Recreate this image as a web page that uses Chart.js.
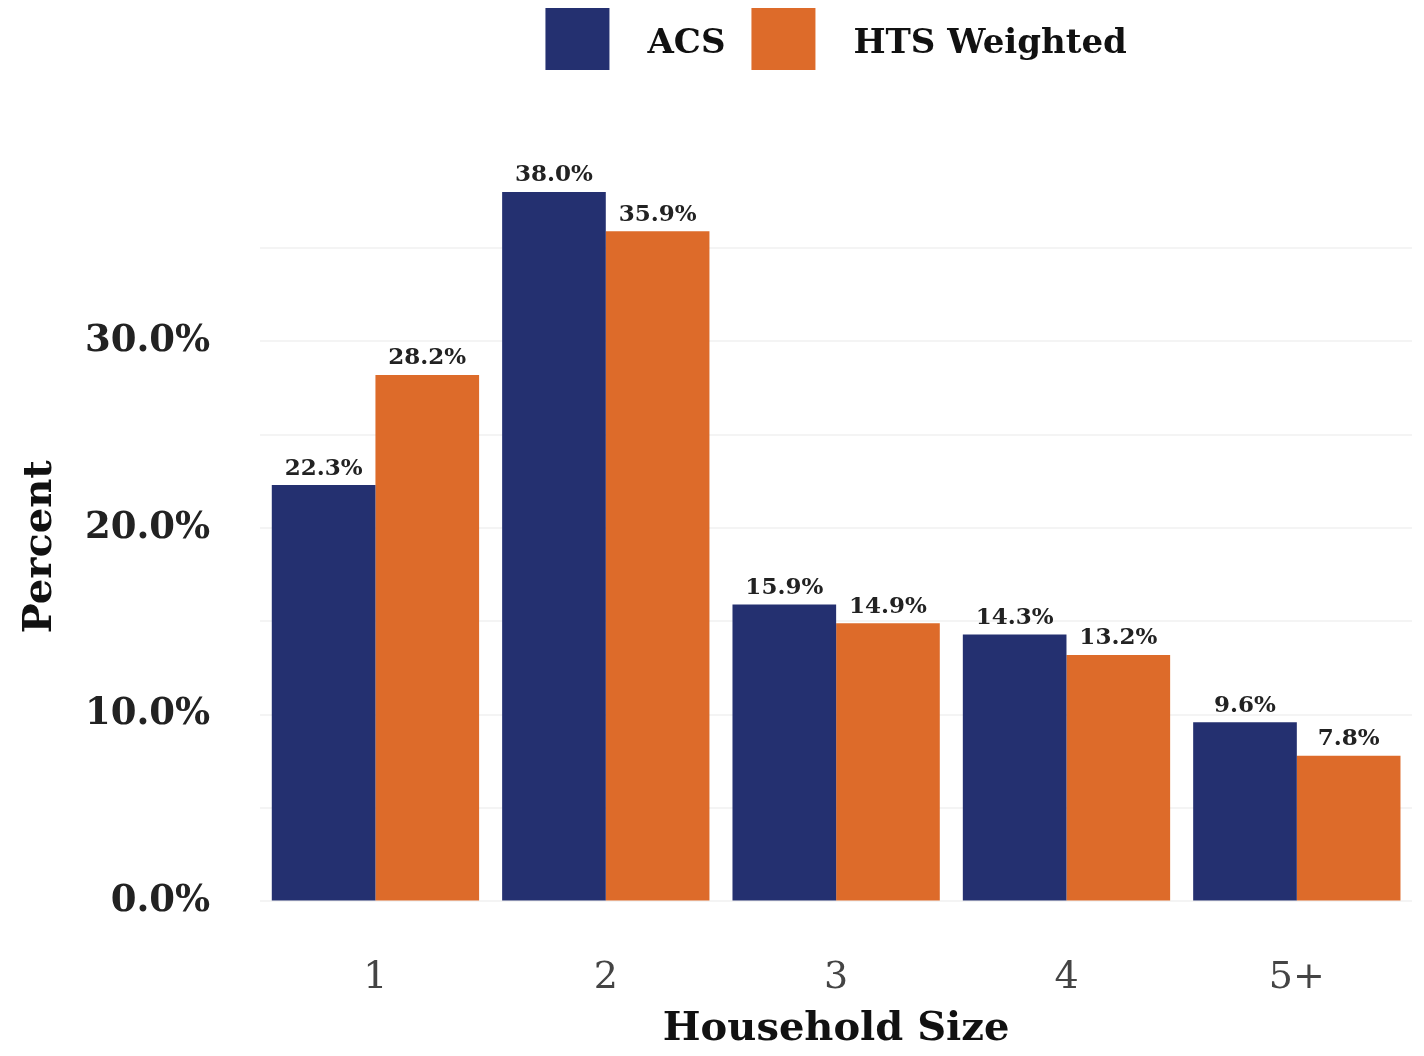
<!DOCTYPE html>
<html>
<head>
<meta charset="utf-8">
<script src="https://cdn.jsdelivr.net/npm/chart.js@4.4.1/dist/chart.umd.min.js"></script>
<style>
  html, body { margin: 0; padding: 0; background: #fff; }
  #wrap { width: 1424px; height: 1056px; }
</style>
</head>
<body>
<div id="wrap"><canvas id="chart"></canvas></div>
<script>
const householdSizes = ["1", "2", "3", "4", "5+"];
const acsValues = [22.3, 38.0, 15.9, 14.3, 9.6];
const htsWeightedValues = [28.2, 35.9, 14.9, 13.2, 7.8];
const yTickLabels = [0, 10, 20, 30];

const NAVY = "#243070";
const ORANGE = "#dd6b2a";
const SERIF = "'DejaVu Serif', serif";

// labels sitting on top of each bar
const barLabels = {
  id: "barLabels",
  afterDatasetsDraw(chart) {
    const ctx = chart.ctx;
    ctx.save();
    ctx.font = "bold 23px " + SERIF;
    ctx.fillStyle = "#222";
    ctx.textAlign = "center";
    ctx.textBaseline = "bottom";
    chart.data.datasets.forEach((ds, i) => {
      chart.getDatasetMeta(i).data.forEach((bar, j) => {
        ctx.fillText(ds.data[j].toFixed(1) + "%", bar.x, bar.y - 5);
      });
    });
    ctx.restore();
  }
};

// y title centred on the data range rather than the whole axis
const yTitle = {
  id: "yTitle",
  afterDraw(chart) {
    const ctx = chart.ctx;
    const y = chart.scales.y;
    ctx.save();
    ctx.translate(y.left + 25, y.getPixelForValue(19));
    ctx.rotate(-Math.PI / 2);
    ctx.font = "bold 40px " + SERIF;
    ctx.fillStyle = "#111";
    ctx.textAlign = "center";
    ctx.textBaseline = "middle";
    ctx.fillText("Percent", 0, 0);
    ctx.restore();
  }
};

// legend centred over the plot area
const topLegend = {
  id: "topLegend",
  afterDraw(chart) {
    const ctx = chart.ctx;
    const area = chart.chartArea;
    const boxW = 64, boxH = 62, gap = 38, itemGap = 26;
    ctx.save();
    ctx.font = "bold 34px " + SERIF;
    const items = chart.data.datasets.map(ds => ({
      text: ds.label, color: ds.backgroundColor, w: ctx.measureText(ds.label).width
    }));
    let total = items.reduce((s, it) => s + boxW + gap + it.w, 0) + itemGap * (items.length - 1);
    let x = (area.left + area.right) / 2 - total / 2;
    const top = 8;
    ctx.textBaseline = "middle";
    ctx.textAlign = "left";
    items.forEach(it => {
      ctx.fillStyle = it.color;
      ctx.fillRect(x, top, boxW, boxH);
      ctx.fillStyle = "#111";
      ctx.fillText(it.text, x + boxW + gap, top + boxH / 2 + 5);
      x += boxW + gap + it.w + itemGap;
    });
    ctx.restore();
  }
};

new Chart(document.getElementById("chart"), {
  type: "bar",
  data: {
    labels: householdSizes,
    datasets: [
      { label: "ACS", data: acsValues, backgroundColor: NAVY },
      { label: "HTS Weighted", data: htsWeightedValues, backgroundColor: ORANGE }
    ]
  },
  options: {
    responsive: true,
    maintainAspectRatio: false,
    animation: false,
    layout: { padding: { top: 80, right: 12, bottom: 2, left: 16 } },
    datasets: { bar: { categoryPercentage: 0.9, barPercentage: 1.0 } },
    plugins: {
      legend: { display: false },
      tooltip: { enabled: false }
    },
    scales: {
      x: {
        grid: { display: false },
        border: { display: false },
        ticks: {
          color: "#444",
          font: { family: SERIF, size: 38 },
          padding: 46
        },
        title: {
          display: true,
          text: "Household Size",
          color: "#111",
          font: { family: SERIF, size: 40, weight: "bold" },
          padding: { top: -41, bottom: 0 }
        }
      },
      y: {
        min: 0,
        max: 44,
        border: { display: false },
        grid: {
          drawTicks: false,
          color: c => (c.tick && c.tick.value <= 35 ? "#f4f4f4" : "rgba(0,0,0,0)"),
          lineWidth: 2
        },
        ticks: {
          stepSize: 5,
          color: "#222",
          padding: 50,
          font: { family: SERIF, size: 37, weight: "bold" },
          callback: v => (yTickLabels.includes(v) ? v.toFixed(1) + "%" : "")
        },
        title: {
          // keeps the space; the visible title is drawn by yTitle
          display: true,
          text: "Percent",
          color: "rgba(0,0,0,0)",
          font: { family: SERIF, size: 40, weight: "bold" },
          padding: { top: 0, bottom: -29 }
        }
      }
    }
  },
  plugins: [barLabels, yTitle, topLegend]
});
</script>
</body>
</html>
